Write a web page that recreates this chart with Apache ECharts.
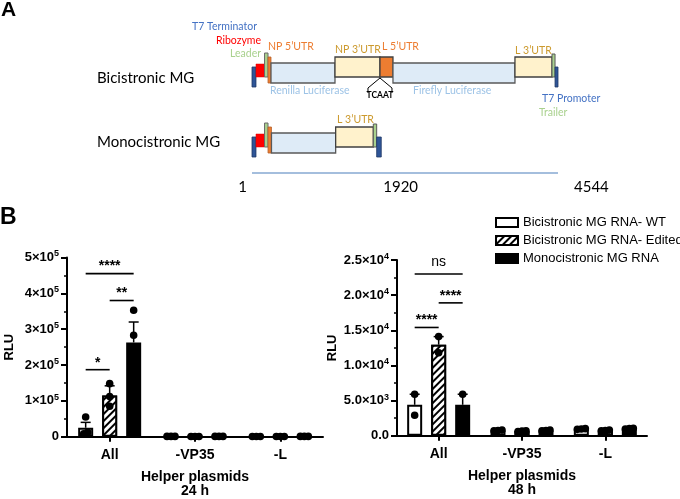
<!DOCTYPE html>
<html><head><meta charset="utf-8">
<script src="https://cdn.jsdelivr.net/npm/echarts@6/dist/echarts.min.js"></script>
<style>html,body{margin:0;padding:0;background:#fff}#c{width:680px;height:499px}</style>
</head><body><div id="c"></div>
<script>
// ================= DATA =================
// Panel A: construct maps (positions in nt)
const constructs = ['Bicistronic MG', 'Monocistronic MG'];
const elemRow   = [0,0,0,0,0,0,0,0,0,0,0, 1,1,1,1,1,1,1,1];
const elemType  = ['t7t','rib','lead','utr5','orf','utr3','utr5l','orf','utr3','trail','t7p',
                   't7t','rib','lead','utr5','orf','utr3','trail','t7p'];
const elemStart = [1,60,187,239,283,1233,1901,2094,3905,4455,4500, 1,60,187,239,290,1243,1802,1852];
const elemEnd   = [60,187,239,283,1233,1901,2094,3905,4455,4500,4544, 60,187,239,290,1243,1802,1852,1920];
const scaleTicks = [1, 1920, 4544];
const annText = ['T7 Terminator','Ribozyme','Leader','NP 5\u2019UTR','NP 3\u2019UTR','L 5\u2019UTR','L 3\u2019UTR',
                 'Renilla Luciferase','TCAAT','Firefly Luciferase','T7 Promoter','Trailer','L 3\u2019UTR'];
const annPos  = [75,135,135,239,1233,1931,3905,268,1901,2391,4306,4262,1263];
const annRow  = [0,0,0,0,0,0,0,0,0,0,0,0,1];

// Panel B
const helperCats = ['All', '-VP35', '-L'];
const seriesNames = ['Bicistronic MG RNA- WT', 'Bicistronic MG RNA- Edited', 'Monocistronic MG RNA'];
const yTicks24 = [0, 100000, 200000, 300000, 400000, 500000];
const yTicks48 = [0, 5000, 10000, 15000, 20000, 25000];
// 24 h
const wt24Mean = [25000, 800, 700];     const wt24Sem = [15000, 100, 100];
const ed24Mean = [115000, 700, 700];    const ed24Sem = [27000, 100, 100];
const mo24Mean = [263000, 900, 800];    const mo24Sem = [57000, 100, 100];
const wt24Pts = [[55000, 12000, 8000], [800, 800, 800], [700, 700, 700]];
const ed24Pts = [[148000, 85000, 112000], [700, 700, 700], [700, 700, 700]];
const mo24Pts = [[353000, 283000, 153000], [900, 900, 900], [800, 800, 800]];
// 48 h
const wt48Mean = [4400, 750, 950];      const wt48Sem = [1500, 50, 60];
const ed48Mean = [12950, 650, 750];     const ed48Sem = [1150, 40, 50];
const mo48Mean = [4400, 750, 1000];     const mo48Sem = [1500, 50, 50];
const wt48Pts = [[5900, 2900], [700, 800, 750], [900, 1000, 950]];
const ed48Pts = [[14100, 11800], [600, 700, 650], [700, 800, 750]];
const mo48Pts = [[5900, 2900], [700, 800, 750], [950, 1050, 1000]];
// significance: [category, groupA, groupB]
const sig24Pairs = [[0,0,2],[0,1,2],[0,0,1]];
const sig24Y     = [455000, 380000, 187000];
const sig24Label = ['****','**','*'];
const sig48Pairs = [[0,0,2],[0,1,2],[0,0,1]];
const sig48Y     = [23000, 18900, 15400];
const sig48Label = ['ns','****','****'];

// ================= STYLE =================
const F = '"Liberation Sans", Arial, sans-serif';
const FA = 'Lato, "Open Sans", sans-serif';
const TYPE_STYLE = {
  t7t:  {fill:'#2F5597', stroke:'#1F3864', lw:0.8, y0:-6,  y1:14},
  rib:  {fill:'#FF0000', stroke:'#E00000', lw:0.5, y0:-9,  y1:4},
  lead: {fill:'#A9D18E', stroke:'#6B6B6B', lw:1,   y0:-20, y1:4},
  utr5: {fill:'#ED7D31', stroke:'#B4602A', lw:0.8, y0:-16, y1:10},
  orf:  {fill:'#DEEBF7', stroke:'#595959', lw:1.3, y0:-10, y1:10},
  utr3: {fill:'#FFF2CC', stroke:'#404040', lw:1.3, y0:-16, y1:4},
  utr5l:{fill:'#ED7D31', stroke:'#404040', lw:1.3, y0:-16, y1:4},
  trail:{fill:'#A9D18E', stroke:'#595959', lw:1,   y0:-19, y1:4},
  t7p:  {fill:'#2F5597', stroke:'#1F3864', lw:0.8, y0:-6,  y1:14}
};
const BLUE='#4472C4', RED='#FF0000', GREEN='#A9D18E', ORANGE='#ED7D31', GOLD='#CC9A2E', LBLUE='#9DC3E6';
const ANN_STYLE = [
  {dy:-46, align:'right', color:BLUE}, {dy:-32, align:'right', color:RED}, {dy:-19, align:'right', color:GREEN},
  {dy:-26, align:'left', color:ORANGE}, {dy:-23, align:'left', color:GOLD}, {dy:-26, align:'left', color:ORANGE},
  {dy:-22, align:'left', color:GOLD}, {dy:18, align:'left', color:LBLUE}, {dy:22, align:'center', color:'#000', font:'bold 8.5px '+FA},
  {dy:18, align:'left', color:LBLUE}, {dy:26, align:'left', color:BLUE}, {dy:40, align:'left', color:GREEN},
  {dy:-23, align:'left', color:GOLD}
];
const SCALE_LABEL_STYLE = [{align:'right', dx:-5}, {align:'left', dx:2}, {align:'left', dx:16}];

const BAR_W = 15, STEP = 24, CAP = 5, DOT_R = 3.8, JIT = 4;
const GROUP_STYLES = [
  {color:'#fff', borderColor:'#000', borderWidth:2},
  {color:'#fff', borderColor:'#000', borderWidth:2,
   decal:{symbol:'rect', symbolSize:1, dashArrayX:[1,0], dashArrayY:[2,3], rotation:-Math.PI/4, color:'#000', backgroundColor:'#fff'}},
  {color:'#000', borderColor:'#000', borderWidth:2}
];
const RICH = {
  b:{fontFamily:F, fontSize:13, fontWeight:'bold', color:'#000', lineHeight:16, verticalAlign:'middle'},
  s:{fontFamily:F, fontSize:9, fontWeight:'bold', color:'#000', lineHeight:10, verticalAlign:'top'}
};
function sciFmt(dec) {
  return function (v) {
    if (v === 0) return '{b|' + (0).toFixed(dec) + '}';
    const e = Math.floor(Math.log10(v) + 1e-9);
    const m = v / Math.pow(10, e);
    return '{b|' + m.toFixed(dec) + '\u00d710}{s|' + e + '}';
  };
}

// ================= BUILD =================
const elemData = elemStart.map((s, i) => [s, elemEnd[i], elemRow[i]]);
const annData = annPos.map((p, i) => [p, annRow[i]]);
const scaleData = scaleTicks.map(t => [t, 1]);

function dotItems(groups, axisMax) {
  const items = [];
  groups.forEach((cats, g) => cats.forEach((pts, c) => {
    const sorted = pts.slice().sort((a, b) => a - b);
    const clusters = [];
    sorted.forEach(v => {
      const last = clusters[clusters.length - 1];
      if (last && v - last[last.length - 1] < axisMax * 0.03) last.push(v); else clusters.push([v]);
    });
    clusters.forEach(cl => cl.forEach((v, j) => items.push([c, g, v, j - (cl.length - 1) / 2])));
  }));
  return items;
}
function errItems(means, sems) {
  const items = [];
  means.forEach((m, g) => m.forEach((v, c) => items.push([c, g, v, sems[g][c]])));
  return items;
}
function sigItems(pairs, ys) { return pairs.map((p, i) => [p[0], p[1], p[2], ys[i]]); }

function errRender(params, api) {
  const c = api.value(0), g = api.value(1), m = api.value(2), e = api.value(3);
  const b = api.coord([c, m]), t = api.coord([c, m + e]);
  const x = b[0] + (g - 1) * STEP;
  return {type:'group', children:[
    {type:'line', shape:{x1:x, y1:b[1], x2:x, y2:t[1]}, style:{stroke:'#000', lineWidth:1.5}},
    {type:'line', shape:{x1:x - CAP, y1:t[1], x2:x + CAP, y2:t[1]}, style:{stroke:'#000', lineWidth:1.5}}
  ]};
}
function dotRender(params, api) {
  const c = api.value(0), g = api.value(1), v = api.value(2), j = api.value(3);
  const p = api.coord([c, v]);
  return {type:'circle', shape:{cx:p[0] + (g - 1) * STEP + j * JIT, cy:p[1], r:DOT_R}, style:{fill:'#000'}};
}
function sigRender(labels) {
  return function (params, api) {
    const c = api.value(0), a = api.value(1), b = api.value(2), y = api.value(3);
    const p = api.coord([c, y]);
    const x1 = p[0] + (a - 1) * STEP, x2 = p[0] + (b - 1) * STEP;
    const lab = labels[params.dataIndex];
    const isNs = lab === 'ns';
    return {type:'group', children:[
      {type:'line', shape:{x1:x1, y1:p[1], x2:x2, y2:p[1]}, style:{stroke:'#000', lineWidth:1.6}},
      {type:'text', x:(x1 + x2) / 2, y:p[1] - (isNs ? 5 : 0),
       style:{text:lab, align:'center', verticalAlign:'bottom', fill:'#000',
              font:(isNs ? '' : 'bold ') + '14px ' + F}}
    ]};
  };
}

const series = [
  {type:'custom', name:'elements', xAxisIndex:0, yAxisIndex:0, data:elemData, encode:{x:[0,1], y:2}, silent:true,
   renderItem(params, api) {
     const st = TYPE_STYLE[elemType[params.dataIndex]];
     const p0 = api.coord([api.value(0), api.value(2)]), p1 = api.coord([api.value(1), api.value(2)]);
     return {type:'rect', shape:{x:p0[0], y:p0[1] + st.y0, width:p1[0] - p0[0], height:st.y1 - st.y0},
             style:{fill:st.fill, stroke:st.stroke, lineWidth:st.lw}};
   }},
  {type:'custom', name:'annotations', xAxisIndex:0, yAxisIndex:0, data:annData, encode:{x:0, y:1}, silent:true, z:3,
   renderItem(params, api) {
     const i = params.dataIndex, st = ANN_STYLE[i];
     const p = api.coord([api.value(0), api.value(1)]);
     const ch = [{type:'text', x:p[0], y:p[1] + st.dy,
       style:{text:annText[i], align:st.align, verticalAlign:'middle', fill:st.color, font:st.font || ('10.5px ' + FA)}}];
     if (annText[i] === 'TCAAT') {
       ch.push({type:'polyline', shape:{points:[[p[0]-12, p[1]+20],[p[0]-12, p[1]+15],[p[0], p[1]+5],[p[0]+12, p[1]+15],[p[0]+12, p[1]+20]]},
                style:{stroke:'#000', lineWidth:1, fill:null}});
     }
     return {type:'group', children:ch};
   }},
  {type:'custom', name:'scale', xAxisIndex:0, yAxisIndex:0, data:scaleData, encode:{x:0, y:1}, silent:true,
   renderItem(params, api) {
     const i = params.dataIndex, st = SCALE_LABEL_STYLE[i];
     const p = api.coord([api.value(0), api.value(1)]);
     const ch = [{type:'text', x:p[0] + st.dx, y:p[1] + 44,
       style:{text:String(scaleTicks[i]), align:st.align, verticalAlign:'middle', fill:'#000', font:'15px ' + FA}}];
     if (i === 0) {
       const e = api.coord([scaleTicks[scaleTicks.length - 1], api.value(1)]);
       ch.push({type:'line', shape:{x1:p[0], y1:p[1] + 30, x2:e[0], y2:p[1] + 30}, style:{stroke:'#4A7EBB', lineWidth:1.2}});
     }
     return {type:'group', children:ch};
   }}
];

function addPanel(xi, means, sems, pts, axisMax, pairs, ys, labels) {
  means.forEach((m, g) => series.push({
    type:'bar', name:seriesNames[g], xAxisIndex:xi, yAxisIndex:xi, data:m, barWidth:BAR_W, barGap:'60%',
    itemStyle:GROUP_STYLES[g], silent:true, z:2
  }));
  series.push({type:'custom', name:'err' + xi, xAxisIndex:xi, yAxisIndex:xi, data:errItems(means, sems), encode:{x:0, y:2}, renderItem:errRender, silent:true, z:3});
  series.push({type:'custom', name:'dots' + xi, xAxisIndex:xi, yAxisIndex:xi, data:dotItems(pts, axisMax), encode:{x:0, y:2}, renderItem:dotRender, silent:true, z:4});
  series.push({type:'custom', name:'sig' + xi, xAxisIndex:xi, yAxisIndex:xi, data:sigItems(pairs, ys), encode:{x:0, y:3}, renderItem:sigRender(labels), silent:true, z:4});
}
addPanel(1, [wt24Mean, ed24Mean, mo24Mean], [wt24Sem, ed24Sem, mo24Sem], [wt24Pts, ed24Pts, mo24Pts], yTicks24[yTicks24.length-1], sig24Pairs, sig24Y, sig24Label);
addPanel(2, [wt48Mean, ed48Mean, mo48Mean], [wt48Sem, ed48Sem, mo48Sem], [wt48Pts, ed48Pts, mo48Pts], yTicks48[yTicks48.length-1], sig48Pairs, sig48Y, sig48Label);

function catAxis(gi, name) {
  return {type:'category', gridIndex:gi, data:helperCats, name:name, nameLocation:'middle', nameGap:33,
    nameTextStyle:{fontFamily:F, fontSize:14, fontWeight:'bold', color:'#000', lineHeight:14},
    axisLine:{show:true, lineStyle:{color:'#000', width:2}},
    axisTick:{show:true, alignWithLabel:true, length:5, lineStyle:{color:'#000', width:2}},
    axisLabel:{margin:11, fontFamily:F, fontSize:14, fontWeight:'bold', color:'#000'},
    splitLine:{show:false}};
}
function valAxis(gi, ticks, dec, nameGap) {
  return {type:'value', gridIndex:gi, min:ticks[0], max:ticks[ticks.length-1], interval:ticks[1]-ticks[0],
    name:'RLU', nameLocation:'middle', nameGap:nameGap,
    nameTextStyle:{fontFamily:F, fontSize:13, fontWeight:'bold', color:'#000'},
    axisLine:{show:true, lineStyle:{color:'#000', width:2}},
    axisTick:{show:true, length:6, lineStyle:{color:'#000', width:2}},
    minorTick:{show:true, splitNumber:2, length:3, lineStyle:{color:'#000', width:1.5}},
    splitLine:{show:false}, minorSplitLine:{show:false},
    axisLabel:{margin:8, formatter:sciFmt(dec), rich:RICH}};
}

const option = {
  animation:false,
  backgroundColor:'#fff',
  title:[
    {text:'A', left:1, top:0, padding:0, textStyle:{fontFamily:F, fontSize:21, fontWeight:'bold', color:'#000'}},
    {text:'B', left:0, top:206, padding:0, textStyle:{fontFamily:F, fontSize:23, fontWeight:'bold', color:'#000'}}
  ],
  legend:{data:seriesNames, orient:'vertical', left:495, top:216, itemWidth:22, itemHeight:9, itemGap:5,
    padding:0, selectedMode:false, icon:'rect', textStyle:{fontFamily:F, fontSize:13, color:'#000'}},
  grid:[
    {left:252, width:306, top:73, height:70, outerBoundsMode:'none', containLabel:false},
    {left:67, width:256, top:257.5, height:179.2, outerBoundsMode:'none', containLabel:false},
    {left:397, width:250, top:260, height:175.7, outerBoundsMode:'none', containLabel:false}
  ],
  xAxis:[
    {type:'value', gridIndex:0, min:scaleTicks[0], max:scaleTicks[scaleTicks.length-1], show:false},
    catAxis(1, 'Helper plasmids\n24 h'),
    catAxis(2, 'Helper plasmids\n48 h')
  ],
  yAxis:[
    {type:'category', gridIndex:0, data:constructs, inverse:true, boundaryGap:false,
     axisLine:{show:false}, axisTick:{show:false}, splitLine:{show:false},
     axisLabel:{margin:155, align:'left',
       formatter:v => v === constructs[0] ? '{d|' + v + '}' : '{u|' + v + '}',
       rich:{d:{fontFamily:FA, fontSize:15, color:'#000', padding:[10,0,0,0]},
             u:{fontFamily:FA, fontSize:15, color:'#000', padding:[0,0,2,0]}}}},
    valAxis(1, yTicks24, 0, 51.5),
    valAxis(2, yTicks48, 1, 58.5)
  ],
  series:series
};
const chart = echarts.init(document.getElementById('c'), null, {renderer:'canvas'});
chart.setOption(option);
</script>
</body></html>
